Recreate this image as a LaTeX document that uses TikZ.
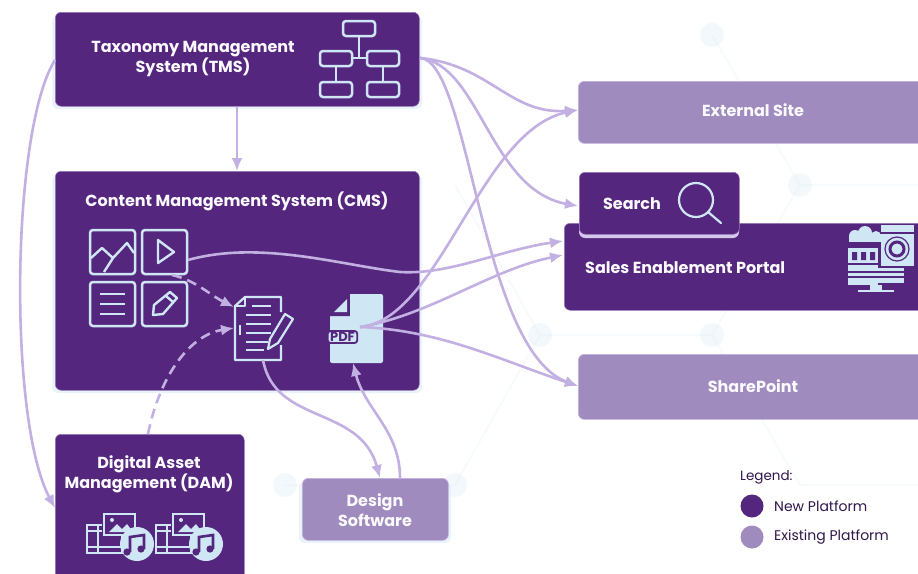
\documentclass[tikz,border=0pt]{standalone}
\usepackage{fontspec}
\setmainfont{Poppins}
\usetikzlibrary{arrows.meta}
\definecolor{deep}{HTML}{54267E}
\definecolor{soft}{HTML}{A08BBE}
\definecolor{wire}{HTML}{C3B0E2}
\definecolor{pale}{HTML}{CFE6F5}
\definecolor{halo}{HTML}{DDEBF7}
\definecolor{bgnet}{HTML}{F8FBFD}
\tikzset{
  x=1pt,y=-1pt,
  newbox/.style={fill=deep,rounded corners=6pt,draw=wire!60!deep,line width=.5pt,inner sep=0pt,anchor=north west},
  oldbox/.style={fill=soft,rounded corners=6pt,draw=wire,line width=.7pt,inner sep=0pt,anchor=north west},
  label/.style={text=white!92!wire,font=\bfseries\fontsize{16}{20}\selectfont,align=center,inner sep=0pt},
  link/.style={draw=wire,line width=2.6pt,-{Latex[length=13pt,width=11pt]}},
  dashlink/.style={link,dash pattern=on 10pt off 6pt},
  icon/.style={draw=pale,line width=2.5pt,rounded corners=3pt},
  thin icon/.style={draw=pale,line width=1.6pt},
  net/.style={draw=bgnet,line width=2pt},
  dot/.style={fill=halo,opacity=.35},
}
\begin{document}
\begin{tikzpicture}
\useasboundingbox (0,0) rectangle (918,573);
\fill[white] (0,0) rectangle (918,573);
% faint network behind the diagram
\draw[net] (712,35) -- (800,185) -- (712,335) -- (540,335) -- (455,485) -- (285,485);
\draw[net] (800,185) -- (918,185) (712,335) -- (800,485) -- (918,485) (540,335) -- (455,185);
\foreach \p in {(712,35),(800,185),(712,335),(540,335),(455,485),(285,485)}
  \fill[dot] \p circle (12);
% boxes
\fill[halo,opacity=.6,rounded corners=6pt] (52,16) rectangle (422,109) (52,175) rectangle (422,393) (299,482) rectangle (451,543);
\node[newbox,minimum width=364pt,minimum height=94pt] (tms) at (55,12) {};
\node[newbox,minimum width=364pt,minimum height=219pt] (cms) at (55,171) {};
\node[newbox,minimum width=189pt,minimum height=150pt] (dam) at (55,434) {};
\node[oldbox,minimum width=146pt,minimum height=62pt] (design) at (302,478) {};
\node[oldbox,minimum width=350pt,minimum height=62pt] (ext) at (578,81) {};
\node[newbox,minimum width=365pt,minimum height=87pt] (portal) at (564,223) {};
\node[oldbox,minimum width=350pt,minimum height=65pt] (share) at (578,354) {};
\fill[wire!70!white,rounded corners=6pt] (579,215) rectangle (739,238);
\node[newbox,minimum width=160pt,minimum height=62pt] (search) at (579,172) {};
% texts
\node[label] (tmst) at (193,59.5) {Taxonomy Management\\System (TMS)};
\node[label] (cmst) at (237,201.5) {Content Management System (CMS)};
\node[label] (damt) at (149,474.5) {Digital Asset\\Management (DAM)};
\node[label] (dest) at (375,510) {Design\\Software};
\node[label] (extt) at (753,110.5) {External Site};
\node[label] (seat) at (632,203.5) {Search};
\node[label,anchor=west] (port) at (585,267.5) {Sales Enablement Portal};
\node[label] (shat) at (753,386.5) {SharePoint};
% TMS icon
\draw[icon] (343,21) rectangle (375,36);
\draw[icon] (320,51) rectangle (352,66);
\draw[icon] (367,51) rectangle (399,66);
\draw[icon] (320,82) rectangle (352,97);
\draw[icon] (367,82) rectangle (399,97);
\draw[thin icon] (359,36) -- (359,58) (352,58) -- (367,58) (336,66) -- (336,82) (383,66) -- (383,82);
% CMS icon grid
\draw[icon] (90,230) rectangle (135,274);
\draw[icon] (142,230) rectangle (187,274);
\draw[icon] (90,282) rectangle (135,326);
\draw[icon] (142,282) rectangle (187,326);
\draw[draw=pale,line width=2.4pt,line join=round] (91,258) -- (102,248) -- (113,258) -- (127,243) -- (134,253) (104,272) -- (113,258);
\draw[draw=pale,line width=2.4pt,line join=round] (158,240) -- (174,252) -- (158,263) -- cycle;
\draw[draw=pale,line width=2.4pt] (100,294) -- (125,294) (100,304) -- (125,304) (100,314) -- (125,314);
\draw[draw=pale,line width=2.4pt,line join=round] (153,315) -- (154,305) -- (170,292) -- (177,298) -- (163,314) -- cycle (166,296) -- (173,302);
% document icon
\coordinate (dock) at (263,360);
\draw[draw=pale,line width=2.2pt,line join=round] (281,312) -- (281,297) -- (245,297) -- (235,306) -- (235,360) -- (281,360) -- (281,345);
\draw[draw=pale,line width=2pt,line join=round] (245,297) -- (245,306) -- (235,306);
\foreach \y/\a/\b in {306/252/271,315/246/271,324/246/271,333/246/271,342/246/268,350/246/264}
  \draw[draw=pale,line width=1.9pt] (\a,\y) -- (\b,\y);
\draw[draw=pale,line width=2.2pt] (240,325) -- (240,335);
\draw[draw=pale,line width=2.2pt,line join=round,fill=deep] (268,349) -- (270,339) -- (285,314) -- (293,319) -- (278,343) -- cycle;
% PDF icon
\fill[pale,rounded corners=2pt] (348,294) -- (383,294) -- (383,363) -- (330,363) -- (330,312) -- cycle;
\fill[deep] (344,292) -- (350,292) -- (350,316) -- (328,316) -- (328,309) -- cycle;
\fill[pale] (347,299) -- (347,312) -- (334,312) -- cycle;
\fill[pale] (350,294) rectangle (360,330);
\node[fill=pale,draw=deep,line width=1.8pt,rounded corners=3pt,inner xsep=2.5pt,inner ysep=1.5pt,text=deep,font=\bfseries\fontsize{13}{14}\selectfont] (pdf) at (342.5,337) {PDF};
% search icon
\draw[draw=pale,line width=2.2pt] (696,200) circle (17);
\draw[draw=pale,line width=2.2pt,line cap=round] (708,212) -- (721,223);
% portal icon
\fill[pale] (855,236) circle (6) (865,233) circle (7) (876,236) circle (5);
\fill[pale] (849,236) rectangle (881,242);
\draw[draw=pale,line width=1.5pt] (871,235) -- (881,235);
\fill[pale] (881,225) rectangle (914,232);
\fill[pale] (881,234) rectangle (914,266);
\draw[draw=deep,line width=3pt] (897,249) circle (7);
\draw[draw=deep,line width=1.2pt] (897,249) circle (12);
\fill[pale] (848,248) rectangle (878,285);
\fill[pale] (848,268) rectangle (904,283);
\fill[deep] (852,252) rectangle (857,260) (861,252) rectangle (866,260) (870,252) rectangle (875,260);
\draw[deep,line width=1.5pt] (848,264) -- (878,264) (848,272) -- (904,272) (848,277) -- (904,277);
\fill[pale] (870,285) rectangle (882,290);
\fill[pale] (858,290) rectangle (894,292);
% DAM icons
\foreach \dx in {0,69} {
\begin{scope}[xshift=\dx pt]
\draw[draw=pale,line width=1.3pt] (87,525) rectangle (134,553);
\draw[draw=pale,line width=1.3pt] (87,531) -- (134,531) (87,547) -- (134,547) (98,525) -- (98,553) (122,525) -- (122,553);
\fill[deep] (102,512) rectangle (136,536);
\draw[draw=pale,line width=1.3pt] (104,514) rectangle (135,535);
\fill[pale] (109,532) -- (117,524) -- (122,529) -- (127,524) -- (133,532) -- cycle (112,520) circle (2);
\fill[pale] (137,544) circle (17);
\draw[draw=deep,line width=2.6pt] (130,552) -- (130,537) -- (144,535) -- (144,549);
\fill[deep] (127,552) circle (3.6) (141,549) circle (3.6);
\end{scope}}
% connectors
\draw[link] (tms.south -| 237,106) -- (237,171);
\coordinate (tmsl) at (55,60);
\coordinate (daml) at (55,508);
\draw[link] (tmsl) .. controls (11,130) and (8,420) .. (daml);
\coordinate (tmsr) at (420,58);
\draw[link] (tmsr) .. controls (490,65) and (510,115) .. (578,110);
\draw[link] (tmsr) .. controls (480,65) and (490,190) .. (578,206);
\draw[link] (tmsr) .. controls (470,60) and (480,350) .. (578,386);
\coordinate (play) at (188,260);
\draw[link] (play) .. controls (260,240) and (340,265) .. (400,272) .. controls (450,275) and (500,250) .. (563,241);
\coordinate (pdfr) at (360,327);
\draw[link] (pdfr) .. controls (440,320) and (480,130) .. (578,110);
\draw[link] (pdfr) .. controls (430,315) and (490,270) .. (563,255);
\draw[link] (pdfr) .. controls (440,330) and (500,360) .. (578,386);
\draw[link] (dock) .. controls (275,425) and (360,405) .. (380,478);
\draw[link] (400,478) .. controls (400,430) and (365,410) .. (353,363);
\coordinate (gridb) at (172,275);
\coordinate (docl) at (234,307);
\coordinate (docm) at (234,328);
\draw[dashlink] (gridb) .. controls (195,280) and (210,295) .. (docl);
\draw[dashlink] (148,434) .. controls (160,375) and (190,335) .. (docm);
% legend
\node[anchor=west,text=deep!60!black,font=\fontsize{13.5}{15}\selectfont,inner sep=0pt] (legt) at (740,477) {Legend:};
\fill[deep] (752,506) circle (11.5);
\fill[soft] (752,537) circle (11.5);
\node[anchor=west,text=deep!60!black,font=\fontsize{14}{15}\selectfont,inner sep=0pt] (leg1) at (774,506) {New Platform};
\node[anchor=west,text=deep!60!black,font=\fontsize{14}{15}\selectfont,inner sep=0pt] (leg2) at (774,537) {Existing Platform};
\end{tikzpicture}
\end{document}
